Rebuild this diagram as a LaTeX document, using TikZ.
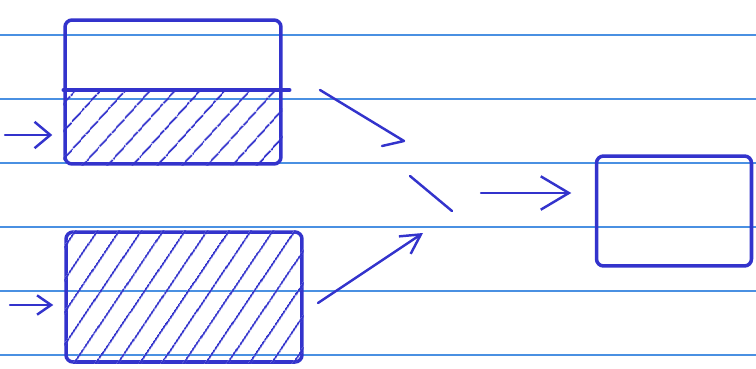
\documentclass[tikz,border=0pt]{standalone}
\usepackage{xcolor}
\usepackage{tikz}
\usetikzlibrary{arrows.meta,patterns.meta}
\definecolor{ink}{HTML}{3333CC}
\definecolor{ruleblue}{HTML}{4A90E2}

\begin{document}
\begin{tikzpicture}[
  x=0.02cm, y=-0.02cm,
  box/.style={draw=ink, line width=2pt, rounded corners=4pt, inner sep=0pt},
  hatch/.style={pattern={Lines[angle=#1,distance=10.5pt,line width=1.1pt]}, pattern color=ink, rounded corners=4pt},
  line/.style={draw=ink, line width=1.4pt, line cap=round, line join=round},
  ruling/.style={draw=ruleblue, line width=0.6pt}
]
\useasboundingbox (0,0) rectangle (756,368);

% Paper lines
\foreach \y in {35,99,163,227,291,355}
  \draw[ruling] (0,\y) -- (756,\y);

% Boxes
\node[box, minimum width=4.32cm, minimum height=2.88cm] (topbox) at (173,92) {};
\node[box, minimum width=4.72cm, minimum height=2.6cm] (botbox) at (184,297) {};
\node[box, minimum width=3.1cm, minimum height=2.2cm] (outbox) at (674,211) {};

% Hatching
\fill[hatch=48] ([yshift=0.04cm]topbox.west) rectangle (topbox.south east);
\fill[hatch=56] (botbox.south west) rectangle (botbox.north east);
\draw[line, line width=2pt] ([yshift=0.04cm]topbox.west) -- ([xshift=0.14cm, yshift=0.04cm]topbox.east);

% Loose ends
\coordinate (in1) at (5,135);
\coordinate (in2) at (10,305);
\coordinate (up1) at (320,90);
\coordinate (up2) at (404,141);
\coordinate (mid1) at (410,176);
\coordinate (mid2) at (452,211);
\coordinate (lo1) at (318,303);
\coordinate (lo2) at (423,233);
\coordinate (out1) at (481,193);

% Connectors
\draw[line, -{Straight Barb[length=9pt,width=15pt]}, shorten >=0.22cm] (in1) -- (in1 -| topbox.west);
\draw[line, -{Straight Barb[length=8pt,width=11pt]}, shorten >=0.22cm] (in2) -- (in2 -| botbox.west);
\draw[line] (up1) -- (up2) -- ++(-22,5);
\draw[line] (mid1) -- (mid2);
\draw[line, -{Straight Barb[length=11pt,width=12pt]}] (lo1) -- (lo2);
\draw[line, -{Straight Barb[length=16pt,width=19pt]}, shorten >=0.47cm] (out1) -- (out1 -| outbox.west);

\end{tikzpicture}
\end{document}
